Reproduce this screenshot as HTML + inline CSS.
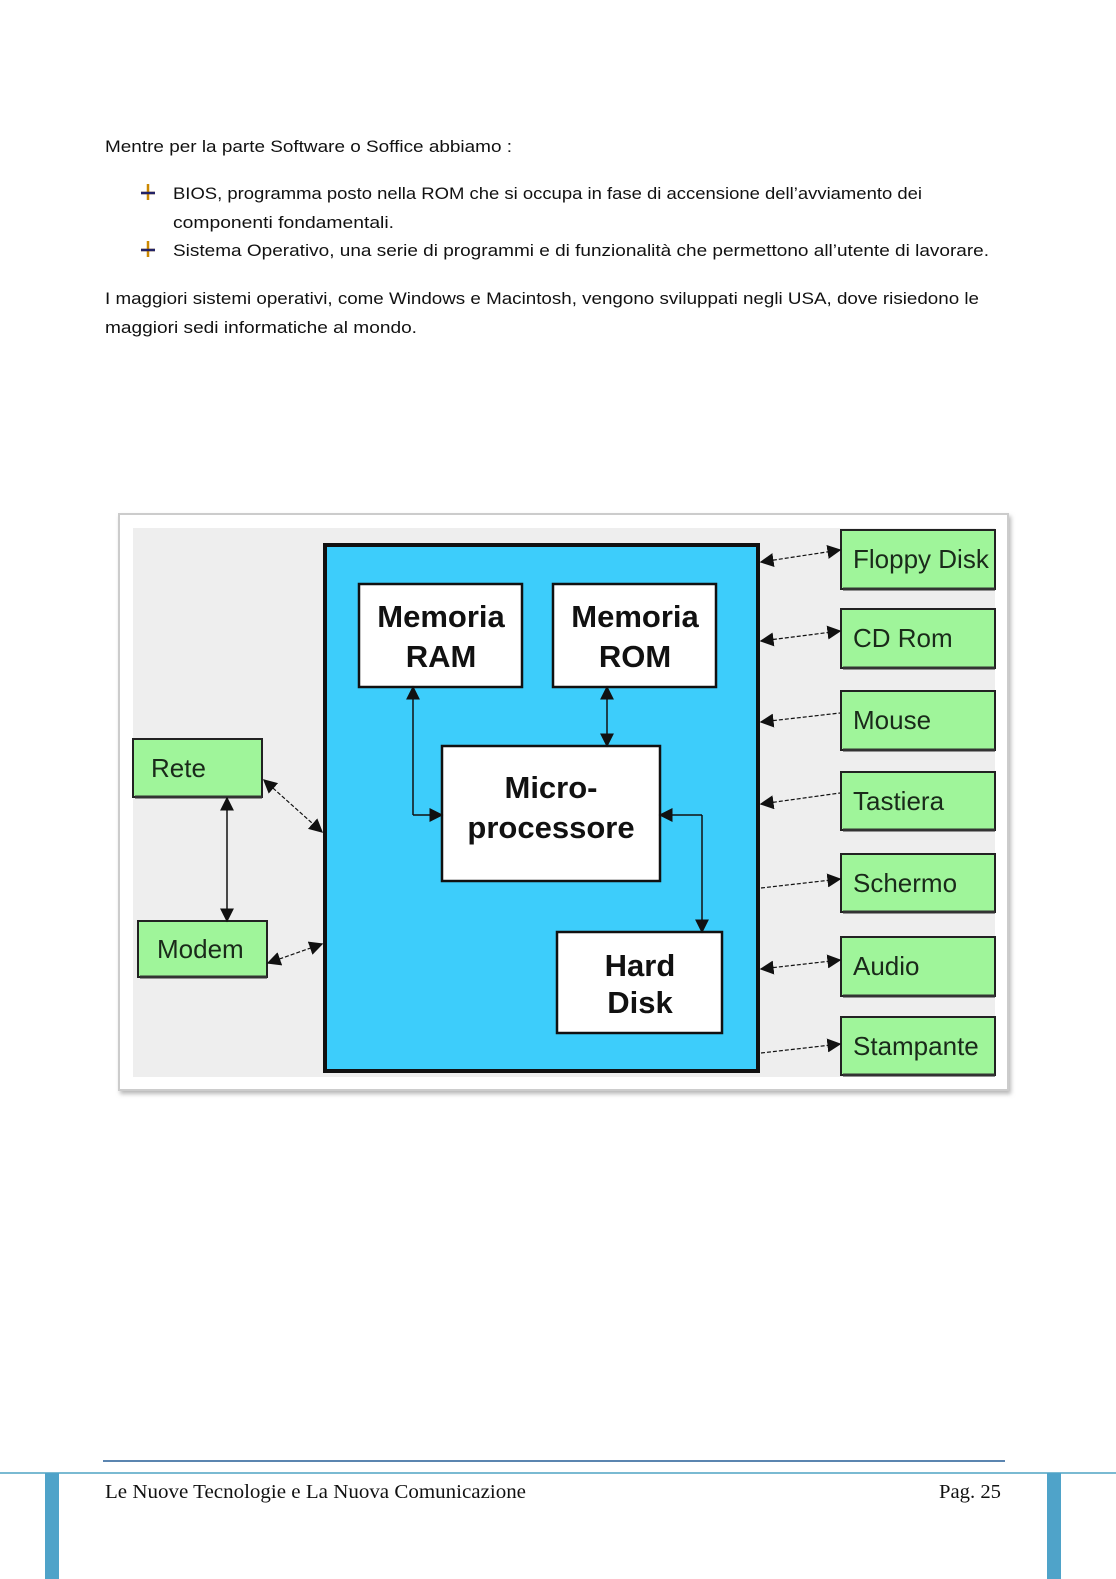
<!DOCTYPE html>
<html><head><meta charset="utf-8"><style>
html,body{margin:0;padding:0;background:#fff;}
svg{display:block;}
</style></head><body>
<svg width="1116" height="1579" viewBox="0 0 1116 1579" xmlns="http://www.w3.org/2000/svg">
<defs>
<marker id="a" viewBox="0 0 10 10" refX="9" refY="5" markerWidth="14" markerHeight="14" markerUnits="userSpaceOnUse" orient="auto-start-reverse">
<path d="M0,0 L10,5 L0,10 Z" fill="#111"/></marker>
<filter id="sh" x="-5%" y="-5%" width="110%" height="110%"><feDropShadow dx="2" dy="3" stdDeviation="2" flood-color="#888" flood-opacity="0.6"/></filter>
</defs>
<rect width="1116" height="1579" fill="#fff"/>
<g font-family="'Liberation Sans',sans-serif" font-size="17" fill="#111">
<text x="105" y="152" textLength="407" lengthAdjust="spacingAndGlyphs">Mentre per la parte Software o Soffice abbiamo :</text>
<text x="173" y="199" textLength="749" lengthAdjust="spacingAndGlyphs">BIOS, programma posto nella ROM che si occupa in fase di accensione dell’avviamento dei</text>
<text x="173" y="228" textLength="221" lengthAdjust="spacingAndGlyphs">componenti fondamentali.</text>
<text x="173" y="256" textLength="816" lengthAdjust="spacingAndGlyphs">Sistema Operativo, una serie di programmi e di funzionalità che permettono all’utente di lavorare.</text>
<text x="105" y="304" textLength="874" lengthAdjust="spacingAndGlyphs">I maggiori sistemi operativi, come Windows e Macintosh, vengono sviluppati negli USA, dove risiedono le</text>
<text x="105" y="333" textLength="312" lengthAdjust="spacingAndGlyphs">maggiori sedi informatiche al mondo.</text>
</g>
<g>
<path d="M148,184 v16 M141,193 h14" stroke="#c80" stroke-width="2.5"/><path d="M141,193 h14" stroke="#226" stroke-width="2.5"/>
<path d="M148,241 v16 M141,250 h14" stroke="#c80" stroke-width="2.5"/><path d="M141,250 h14" stroke="#226" stroke-width="2.5"/>
</g>
<!-- diagram frame -->
<rect x="119" y="514" width="889" height="576" fill="#fff" stroke="#ccc" stroke-width="2" filter="url(#sh)"/>
<rect x="133" y="528" width="862" height="549" fill="#eeeeee"/>
<rect x="325" y="545" width="433" height="526" fill="#3dcdfb" stroke="#111" stroke-width="4"/>
<g fill="#fff" stroke="#111" stroke-width="2.5">
<rect x="359" y="584" width="163" height="103"/>
<rect x="553" y="584" width="163" height="103"/>
<rect x="442" y="746" width="218" height="135"/>
<rect x="557" y="932" width="165" height="101"/>
</g>
<g font-family="'Liberation Sans',sans-serif" font-weight="bold" font-size="31" fill="#111" text-anchor="middle">
<text x="441" y="627">Memoria</text><text x="441" y="667">RAM</text>
<text x="635" y="627">Memoria</text><text x="635" y="667">ROM</text>
<text x="551" y="798">Micro-</text><text x="551" y="838">processore</text>
<text x="640" y="976">Hard</text><text x="640" y="1013">Disk</text>
</g>
<!-- green boxes -->
<g fill="#9ff59a" stroke="#222" stroke-width="2">
<rect x="841" y="530" width="154" height="59"/>
<rect x="841" y="609" width="154" height="59"/>
<rect x="841" y="691" width="154" height="59"/>
<rect x="841" y="772" width="154" height="58"/>
<rect x="841" y="854" width="154" height="58"/>
<rect x="841" y="937" width="154" height="59"/>
<rect x="841" y="1017" width="154" height="58"/>
<rect x="133" y="739" width="129" height="58"/>
<rect x="138" y="921" width="129" height="56"/>
</g>
<g stroke="#333" stroke-width="3">
<path d="M843,589 h152 M843,668 h152 M843,750 h152 M843,830 h152 M843,912 h152 M843,996 h152 M843,1075 h152 M135,797 h127 M140,977 h127"/>
</g>
<g font-family="'Liberation Sans',sans-serif" font-size="26" fill="#1a2a1a">
<text x="853" y="568">Floppy Disk</text>
<text x="853" y="647">CD Rom</text>
<text x="853" y="729">Mouse</text>
<text x="853" y="810">Tastiera</text>
<text x="853" y="892">Schermo</text>
<text x="853" y="975">Audio</text>
<text x="853" y="1055">Stampante</text>
<text x="151" y="777">Rete</text>
<text x="157" y="958">Modem</text>
</g>
<!-- connectors -->
<g stroke="#111" stroke-width="1.5" fill="none">
<path d="M413,815 H442" marker-end="url(#a)"/>
<path d="M413,815 V687" marker-end="url(#a)"/>
<path d="M607,687 V746" marker-start="url(#a)" marker-end="url(#a)"/>
<path d="M702,815 H660" marker-end="url(#a)"/>
<path d="M702,815 V932" marker-end="url(#a)"/>
<path d="M227,798 V921" marker-start="url(#a)" marker-end="url(#a)"/>
</g>
<g stroke="#111" stroke-width="1.2" fill="none" stroke-dasharray="4,2">
<path d="M264,780 L322,832" marker-start="url(#a)" marker-end="url(#a)"/>
<path d="M268,963 L322,944" marker-start="url(#a)" marker-end="url(#a)"/>
<path d="M761,562 L840,550" marker-start="url(#a)" marker-end="url(#a)"/>
<path d="M761,641 L840,631" marker-start="url(#a)" marker-end="url(#a)"/>
<path d="M761,722 L840,713" marker-start="url(#a)"/>
<path d="M761,804 L840,793" marker-start="url(#a)"/>
<path d="M761,888 L840,879" marker-end="url(#a)"/>
<path d="M761,969 L840,960" marker-start="url(#a)" marker-end="url(#a)"/>
<path d="M761,1053 L840,1044" marker-end="url(#a)"/>
</g>
<!-- footer -->
<line x1="103" y1="1461" x2="1005" y2="1461" stroke="#5b85b0" stroke-width="2"/>
<line x1="0" y1="1473" x2="1116" y2="1473" stroke="#4fa3c4" stroke-width="1.5"/>
<rect x="45" y="1473" width="14" height="106" fill="#4fa3c9"/>
<rect x="1047" y="1473" width="14" height="106" fill="#4fa3c9"/>
<g font-family="'Liberation Serif',serif" font-size="20" fill="#111">
<text x="105" y="1498" textLength="421" lengthAdjust="spacingAndGlyphs">Le Nuove Tecnologie e La Nuova Comunicazione</text>
<text x="939" y="1498" textLength="62" lengthAdjust="spacingAndGlyphs">Pag. 25</text>
</g>
</svg>
</body></html>
